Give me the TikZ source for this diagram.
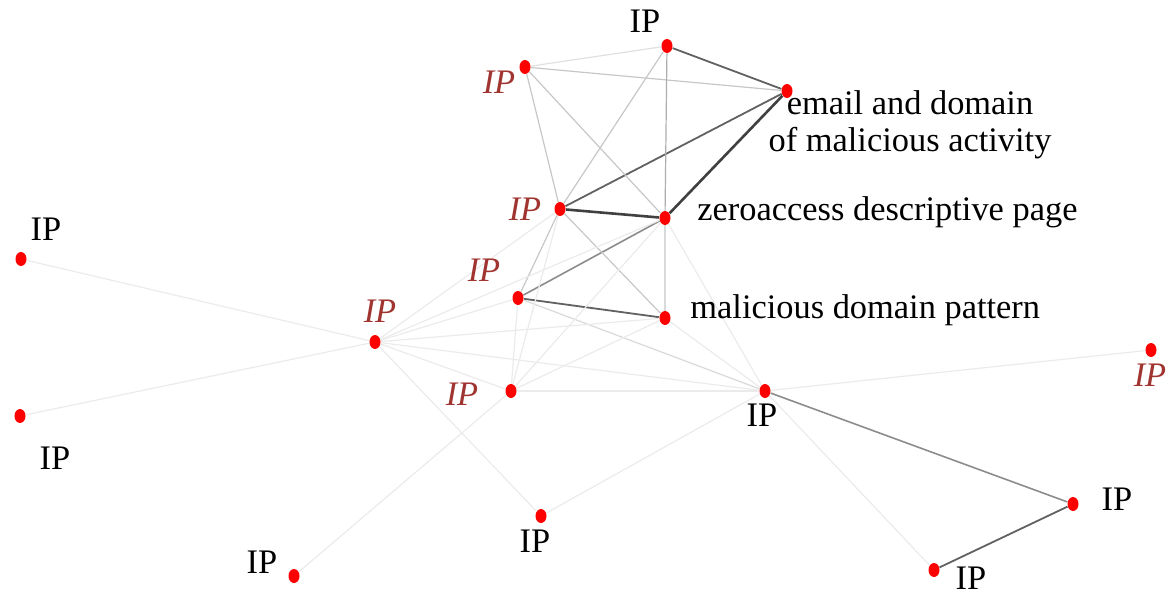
\documentclass[tikz,border=0pt]{standalone}
\usepackage{fontspec}
\setmainfont{Liberation Serif}
\usepackage{tikz}
\usetikzlibrary{shapes.geometric, backgrounds}
\definecolor{colDot}{RGB}{255,0,0}
\definecolor{colIPred}{RGB}{160,52,48}

\begin{document}
\begin{tikzpicture}[
  x=0.5pt, y=-0.5pt,
  dot/.style={ellipse, fill=colDot, minimum width=5.5pt, minimum height=7pt, inner sep=0pt},
  lbl/.style={font=\fontsize{17.2}{18.5}\selectfont, inner sep=0pt, align=center},
  redlbl/.style={lbl, text=colIPred, font=\fontsize{17.2}{18.5}\selectfont\itshape},
  faint/.style={draw=black!8, line width=0.6pt},
  light/.style={draw=black!22, line width=0.6pt},
  mid/.style={draw=black!45, line width=0.8pt},
  dark/.style={draw=black!62, line width=0.9pt},
  heavy/.style={draw=black!75, line width=1.3pt},
]
\useasboundingbox (0,0) rectangle (1172,594);

% Nodes (upper cluster)
\node[dot] (ipTop) at (667,46) {};
\node[dot] (ipA) at (525,67) {};
\node[dot] (email) at (787,91) {};
\node[dot] (ipB) at (560,209) {};
\node[dot] (zero) at (665,218) {};
\node[dot] (ipC) at (518,298) {};
\node[dot] (mal) at (665,318) {};
\node[dot] (ipD) at (375,342) {};
\node[dot] (ipE) at (511,391) {};
\node[dot] (hub) at (765,391) {};

% Nodes (outer)
\node[dot] (ipF) at (1151,350) {};
\node[dot] (ipL1) at (21,259) {};
\node[dot] (ipL2) at (20,416) {};
\node[dot] (ipBL) at (294,576) {};
\node[dot] (ipBM) at (541,516) {};
\node[dot] (ipR1) at (1073,504) {};
\node[dot] (ipR2) at (934,570) {};

% Labels
\node[lbl] (tTop) at (645,21) {IP};
\node[redlbl] (tA) at (499,82) {IP};
\node[lbl] (tEmail) at (910,125) {email and domain\\of malicious activity};
\node[redlbl] (tB) at (525,209) {IP};
\node[lbl, anchor=west] (tZero) at (697,212) {zeroaccess descriptive page};
\node[redlbl] (tC) at (484,270) {IP};
\node[lbl, anchor=west] (tMal) at (690,310) {malicious domain pattern};
\node[redlbl] (tD) at (380,311) {IP};
\node[redlbl] (tE) at (462,394) {IP};
\node[lbl] (tHub) at (762,415) {IP};
\node[redlbl] (tF) at (1150,375) {IP};
\node[lbl] (tL1) at (46,229) {IP};
\node[lbl] (tL2) at (55,458) {IP};
\node[lbl] (tBL) at (262,562) {IP};
\node[lbl] (tBM) at (535,541) {IP};
\node[lbl] (tR1) at (1117,499) {IP};
\node[lbl] (tR2) at (971,578) {IP};

\begin{scope}[on background layer]
% Strong links
\draw[heavy] (ipB) -- (zero);
\draw[heavy] (zero) -- (email);
\draw[dark] (ipB) -- (email);
\draw[dark] (ipTop) -- (email);
\draw[dark] (ipC) -- (mal);
\draw[dark] (ipR1) -- (ipR2);
\draw[mid] (hub) -- (ipR1);
\draw[mid] (ipC) -- (zero);

% Weaker links
\draw[light] (ipA) -- (email);
\draw[light] (ipA) -- (ipB);
\draw[light] (ipA) -- (zero);
\draw[light] (ipTop) -- (ipB);
\draw[light, draw=black!32] (ipTop) -- (zero);
\draw[light] (ipB) -- (mal);
\draw[light] (ipB) -- (ipC);
\draw[light, draw=black!15] (zero) -- (mal);
\draw[light, draw=black!12] (ipA) -- (ipTop);
\draw[light, draw=black!15] (ipC) -- (hub);

% Faint links
\foreach \a/\b in {ipD/ipL1, ipD/ipL2, ipD/ipB, ipD/ipC, ipD/zero, ipD/mal, ipD/hub,
                   ipD/ipE, ipD/ipBM, ipB/ipE, ipC/ipE, ipE/zero, ipE/mal, ipE/hub,
                   ipE/ipBL, mal/hub, zero/hub, hub/ipF, hub/ipBM, hub/ipR2}
  \draw[faint] (\a) -- (\b);
\end{scope}

\end{tikzpicture}
\end{document}
